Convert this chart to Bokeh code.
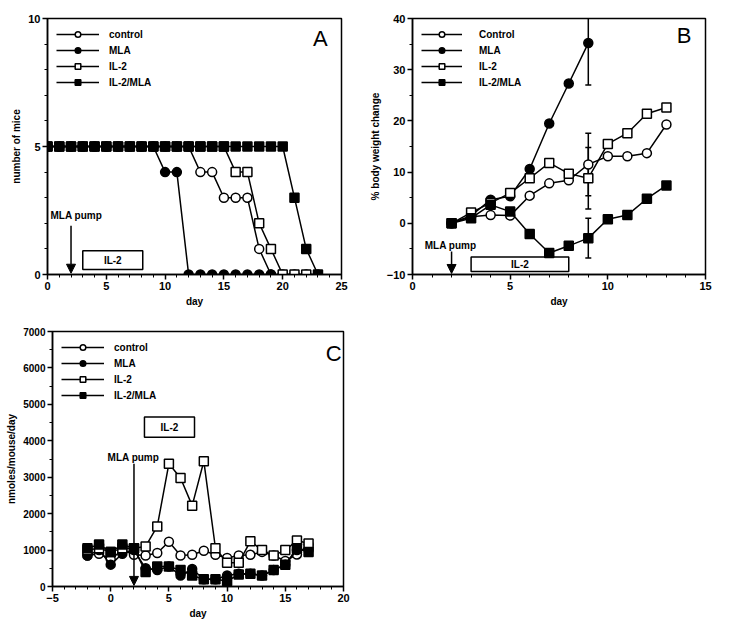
from bokeh.plotting import figure
from bokeh.layouts import column, row
from bokeh.models import Range1d, Legend, LegendItem, Label, Arrow, NormalHead, SingleIntervalTicker
from bokeh.embed import file_html
from bokeh.resources import INLINE

# ---------------- data ----------------
series_names_A = ["control", "MLA", "IL-2", "IL-2/MLA"]
series_names_B = ["Control", "MLA", "IL-2", "IL-2/MLA"]

# Panel A: number of surviving mice
a_control_days = list(range(0, 24))
a_control = [5] * 13 + [4, 4, 3, 3, 3, 1, 0, 0, 0, 0, 0]
a_mla_days = list(range(0, 20))
a_mla = [5] * 10 + [4, 4] + [0] * 8
a_il2_days = list(range(0, 23))
a_il2 = [5] * 16 + [4, 4, 2, 1, 0, 0, 0]
a_il2mla_days = list(range(0, 24))
a_il2mla = [5] * 21 + [3, 1, 0]

# Panel B: % body weight change
b_days = list(range(2, 14))
b_control = [0, 1.3, 1.6, 1.5, 5.4, 7.8, 8.4, 11.5, 13.1, 13.1, 13.7, 19.3]
b_mla_days = list(range(2, 10))
b_mla = [0, 1.5, 4.6, 5.3, 10.6, 19.5, 27.3, 35.2]
b_il2 = [0, 2.1, 4.0, 5.9, 8.8, 11.8, 9.7, 8.8, 15.5, 17.6, 21.4, 22.6]
b_il2mla = [0, 1.0, 3.6, 2.3, -2.1, -5.8, -4.4, -2.9, 0.8, 1.6, 4.8, 7.4]
b_err_day = [9, 9, 9, 9]
b_err_low = [27.0, 5.4, 2.8, -6.8]
b_err_high = [43.5, 17.6, 14.8, 1.0]

# Panel C: nmoles/mouse/day
c_days = list(range(-2, 18))
c_control = [850, 900, 750, 1000, 870, 850, 920, 1230, 850, 870, 980, 870, 780, 850, 870, 950, 850, 700, 880, 1150]
c_mla = [850, 1000, 600, 900, 1000, 500, 450, 550, 300, 480, 200, 200, 300, 350, 350, 300, 450, 600, 1000, 1000]
c_il2 = [1000, 1050, 950, 1050, 1050, 1100, 1650, 3370, 2980, 2220, 3440, 1050, 650, 650, 1240, 1000, 850, 1000, 1260, 1180]
c_il2mla = [1050, 1150, 950, 1150, 1050, 400, 550, 550, 450, 300, 200, 200, 150, 330, 350, 300, 450, 600, 1050, 950]

MLA_PUMP_DAY = 2
# IL-2 treatment boxes (x0, x1, y0, y1)
A_BOX = (3, 8.1, 0.2, 0.93)
B_BOX = (3, 8, -9.4, -6.6)
C_BOX = (2.9, 7.2, 4100, 4650)

FONT = "Liberation Sans"
markers = ["circle", "circle", "square", "square"]
fills = ["white", "black", "white", "black"]


def style(p, xlabel, ylabel):
    p.grid.visible = False
    p.outline_line_color = "black"
    p.outline_line_width = 1.5
    p.background_fill_color = "white"
    p.border_fill_color = "white"
    for ax in (p.xaxis[0], p.yaxis[0]):
        ax.axis_line_width = 1.5
        ax.major_tick_line_width = 1.5
        ax.minor_tick_line_width = 1
        ax.major_tick_out = 5
        ax.major_tick_in = 0
        ax.minor_tick_out = 3
        ax.minor_tick_in = 0
        ax.major_label_text_font = FONT
        ax.major_label_text_font_style = "bold"
        ax.major_label_text_font_size = "11px"
        ax.major_label_text_color = "black"
        ax.major_label_standoff = 2
        ax.axis_label_text_font = FONT
        ax.axis_label_text_font_style = "bold"
        ax.axis_label_text_font_size = "10px"
        ax.axis_label_text_color = "black"
        ax.axis_label_standoff = 3
    p.xaxis.axis_label = xlabel
    p.yaxis.axis_label = ylabel


def add_series(p, xs_list, ys_list, names, glyph_width, standoff):
    items = []
    for i, (xs, ys) in enumerate(zip(xs_list, ys_list)):
        lr = p.line(xs, ys, line_color="black", line_width=1.5)
        sr = p.scatter(xs, ys, marker=markers[i], size=9, fill_color=fills[i],
                       line_color="black", line_width=1.5)
        items.append(LegendItem(label=names[i], renderers=[lr, sr]))
    leg = Legend(items=items, location="top_left", border_line_color=None,
                 background_fill_alpha=0, label_text_font=FONT,
                 label_text_font_style="bold", label_text_font_size="10px",
                 label_text_color="black",
                 glyph_width=glyph_width, glyph_height=14, label_height=14,
                 spacing=2, label_standoff=standoff, margin=9, padding=1)
    p.add_layout(leg)


def add_annotations(p, letter, lx, ly, box, pump_x, pump_y, arrow_y0, arrow_y1):
    x0, x1, y0, y1 = box
    p.quad(left=[x0], right=[x1], bottom=[y0], top=[y1], fill_color="white",
           line_color="black", line_width=1.5)
    p.add_layout(Label(x=(x0 + x1) / 2, y=(y0 + y1) / 2, text="IL-2", text_align="center",
                       text_baseline="middle", text_font=FONT, text_font_style="bold",
                       text_font_size="10px", text_color="black"))
    p.add_layout(Label(x=lx, y=ly, text=letter, text_align="center", text_baseline="middle",
                       text_font=FONT, text_font_size="22px", text_color="black"))
    p.add_layout(Label(x=pump_x, y=pump_y, text="MLA pump", text_align="center",
                       text_baseline="middle", text_font=FONT, text_font_style="bold",
                       text_font_size="10px", text_color="black"))
    p.add_layout(Arrow(x_start=MLA_PUMP_DAY, y_start=arrow_y0, x_end=MLA_PUMP_DAY, y_end=arrow_y1,
                       line_width=1.5, end=NormalHead(size=9, fill_color="black", line_color="black")))


# ---------------- Panel A ----------------
pA = figure(width=355, height=314, output_backend="svg", toolbar_location=None,
            x_range=Range1d(0, 25), y_range=Range1d(0, 10),
            min_border_left=47, min_border_top=18, min_border_bottom=37, min_border_right=14)
style(pA, "day", "number of mice")
pA.xaxis.ticker = SingleIntervalTicker(interval=5, num_minor_ticks=5)
pA.yaxis.ticker = SingleIntervalTicker(interval=5, num_minor_ticks=5)
add_annotations(pA, "A", 23.2, 9.2, A_BOX, 2.45, 2.3, 1.9, 0.05)
add_series(pA, [a_control_days, a_mla_days, a_il2_days, a_il2mla_days],
           [a_control, a_mla, a_il2, a_il2mla], series_names_A, 43, 10)

# ---------------- Panel B ----------------
pB = figure(width=365, height=314, output_backend="svg", toolbar_location=None,
            x_range=Range1d(0, 15), y_range=Range1d(-10, 40),
            min_border_left=57, min_border_top=18, min_border_bottom=40, min_border_right=15)
style(pB, "day", "% body weight change")
pB.xaxis.ticker = SingleIntervalTicker(interval=5, num_minor_ticks=5)
pB.yaxis.ticker = SingleIntervalTicker(interval=10, num_minor_ticks=2)
add_annotations(pB, "B", 13.9, 36.7, B_BOX, 1.95, -4.3, -5.5, -9.8)
pB.segment(x0=b_err_day, y0=b_err_low, x1=b_err_day, y1=b_err_high, line_color="black", line_width=1.5)
pB.scatter(b_err_day, b_err_low, marker="dash", size=6, line_color="black", line_width=1.5)
pB.scatter(b_err_day, b_err_high, marker="dash", size=6, line_color="black", line_width=1.5)
add_series(pB, [b_days, b_mla_days, b_days, b_days],
           [b_control, b_mla, b_il2, b_il2mla], series_names_B, 41, 17)

# ---------------- Panel C ----------------
pC = figure(width=355, height=309, output_backend="svg", toolbar_location=None,
            x_range=Range1d(-5, 20), y_range=Range1d(0, 7000),
            min_border_left=52, min_border_top=17, min_border_bottom=37, min_border_right=12)
style(pC, "day", "nmoles/mouse/day")
pC.xaxis.ticker = SingleIntervalTicker(interval=5, num_minor_ticks=5)
pC.yaxis.ticker = SingleIntervalTicker(interval=1000, num_minor_ticks=2)
pC.yaxis.major_label_text_font_size = "10px"
add_annotations(pC, "C", 19.15, 6390, C_BOX, 1.95, 3540, 3370, 30)
add_series(pC, [c_days] * 4, [c_control, c_mla, c_il2, c_il2mla], series_names_A, 43, 10)

layout = column(row(pA, pB), pC)

open("out.html", "w").write(file_html(layout, INLINE))
